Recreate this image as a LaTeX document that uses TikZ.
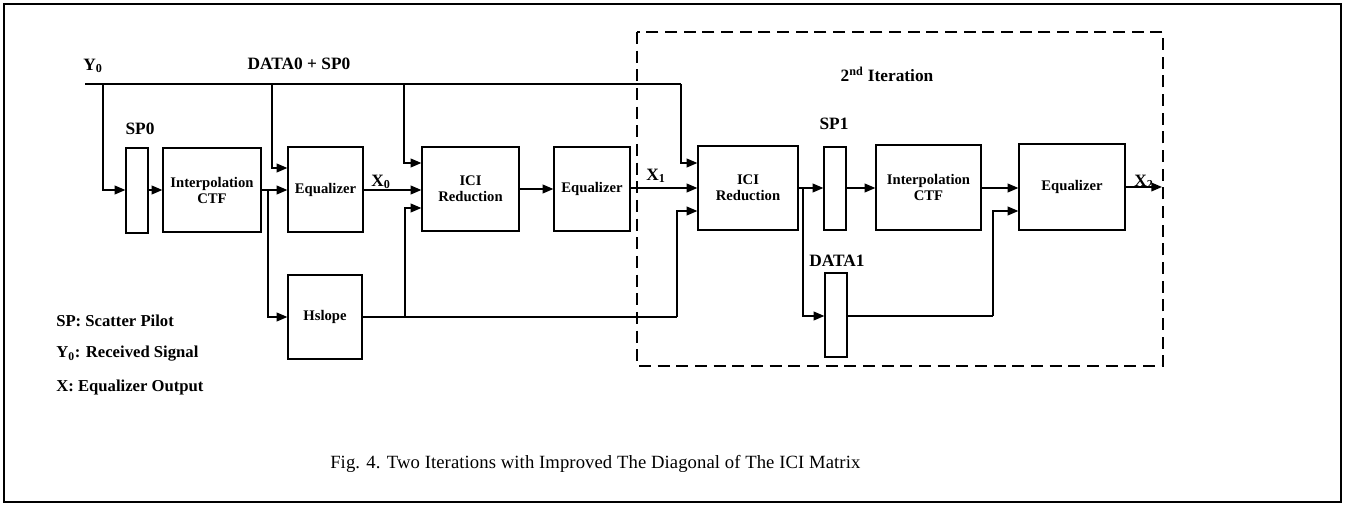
\documentclass[tikz,border=0pt]{standalone}
\usepackage{fontspec}
\setmainfont{Liberation Serif}
\newfontfamily\capfont[LetterSpace=0.5]{Liberation Serif}
\usetikzlibrary{arrows.meta}
\begin{document}
\begin{tikzpicture}[x=0.75pt,y=-0.75pt,
  blk/.style={draw,line width=0.9pt,inner sep=0pt,font=\fontsize{11}{12}\selectfont\bfseries,align=center},
  lbl/.style={inner sep=0pt,font=\fontsize{13}{15}\selectfont\bfseries},
  leg/.style={inner sep=0pt,anchor=west,font=\fontsize{12.5}{15}\selectfont\bfseries},
  wire/.style={line width=1.2pt},
  arr/.style={line width=1.2pt,-{Triangle[length=8pt,width=6.5pt]}},
  dashbox/.style={line width=1.4pt,dash pattern=on 9pt off 5pt}]
\useasboundingbox (0,0) rectangle (1345,505);
\draw[line width=1.4pt] (4,4) rectangle (1341,502);
% blocks
\node[blk,minimum width=16.5pt,minimum height=63.75pt] (sp0) at (137,190.5) {};
\node[blk,minimum width=73.5pt,minimum height=63pt] (int1) at (212,190) {Interpolation\\CTF};
\node[blk,minimum width=56.25pt,minimum height=63.75pt] (eq1) at (325.5,189.5) {Equalizer};
\node[blk,minimum width=72.75pt,minimum height=63pt] (ici1) at (470.5,189) {ICI\\Reduction};
\node[blk,minimum width=57pt,minimum height=63pt] (eq2) at (592,189) {Equalizer};
\node[blk,minimum width=75pt,minimum height=63pt] (ici2) at (748,188) {ICI\\Reduction};
\node[blk,minimum width=16.5pt,minimum height=62.25pt] (sp1) at (835,188.5) {};
\node[blk,minimum width=78.75pt,minimum height=63.75pt] (int2) at (928.5,187.5) {Interpolation\\CTF};
\node[blk,minimum width=79.5pt,minimum height=64.5pt] (eq3) at (1072,187) {Equalizer};
\node[blk,minimum width=16.5pt,minimum height=63pt] (d1) at (836,315) {};
\node[blk,minimum width=55.5pt,minimum height=63pt] (hs) at (325,317) {Hslope};
% dashed iteration box
\draw[dashbox] (637,32) rectangle (1163,366);
% labels
\node[lbl] (ly0) at (93,66) {Y\textsubscript{0}};
\node[lbl] (ldata) at (299,64) {DATA0 + SP0};
\node[lbl] (lsp0) at (140,129) {SP0};
\node[lbl] (lx0) at (381,182) {X\textsubscript{0}};
\node[lbl] (lx1) at (656,176) {X\textsubscript{1}};
\node[lbl] (lsp1) at (834,124) {SP1};
\node[lbl] (ld1) at (837,261) {DATA1};
\node[lbl] (lx2) at (1144,182) {X\textsubscript{2}};
\node[lbl] (lit) at (887,74) {2\textsuperscript{nd} Iteration};
\node[leg] (lg1) at (56,321) {SP: Scatter Pilot};
\node[leg] (lg2) at (56,354) {Y\textsubscript{0}: Received Signal};
\node[leg] (lg3) at (56,387) {X: Equalizer Output};
\node[inner sep=0pt,anchor=west,font=\capfont\fontsize{14}{16}\selectfont] (cap) at (330,464) {Fig. 4. Two Iterations with Improved The Diagonal of The ICI Matrix};
% coordinates
\coordinate (ystart) at (85,84);
\coordinate (yend) at (681,84);
\coordinate (b1) at (103,84);
\coordinate (b2) at (272,84);
\coordinate (b3) at (404,84);
\coordinate (bh) at (268,190);
\coordinate (bhs) at (405,317);
\coordinate (hsend) at (677,317);
\coordinate (bd) at (803,188);
\coordinate (d1end) at (993,316);
\coordinate (x2end) at (1162,187);
% wires
\draw[wire] (ystart) -- (yend);
\draw[arr] (yend) |- (ici2.west |- 0,163);
\draw[arr] (b1) |- (sp0.west |- 0,190);
\draw[arr] (sp0.east |- 0,190) -- (int1.west |- 0,190);
\draw[arr] (int1.east |- 0,190) -- (eq1.west |- 0,190);
\draw[arr] (b2) |- (eq1.west |- 0,168);
\draw[arr] (bh) |- (hs.west |- 0,317);
\draw[arr] (eq1.east |- 0,190) -- (ici1.west |- 0,190);
\draw[arr] (b3) |- (ici1.west |- 0,163);
\draw[wire] (hs.east |- 0,317) -- (hsend);
\draw[arr] (hsend) |- (ici2.west |- 0,211);
\draw[arr] (bhs) |- (ici1.west |- 0,208);
\draw[arr] (ici1.east |- 0,189) -- (eq2.west |- 0,189);
\draw[arr] (eq2.east |- 0,188) -- (ici2.west |- 0,188);
\draw[arr] (ici2.east |- 0,188) -- (sp1.west |- 0,188);
\draw[arr] (bd) |- (d1.west |- 0,316);
\draw[arr] (sp1.east |- 0,188) -- (int2.west |- 0,188);
\draw[arr] (int2.east |- 0,188) -- (eq3.west |- 0,188);
\draw[wire] (d1.east |- 0,316) -- (d1end);
\draw[arr] (d1end) |- (eq3.west |- 0,211);
\draw[arr] (eq3.east |- 0,187) -- (x2end);
\end{tikzpicture}
\end{document}
